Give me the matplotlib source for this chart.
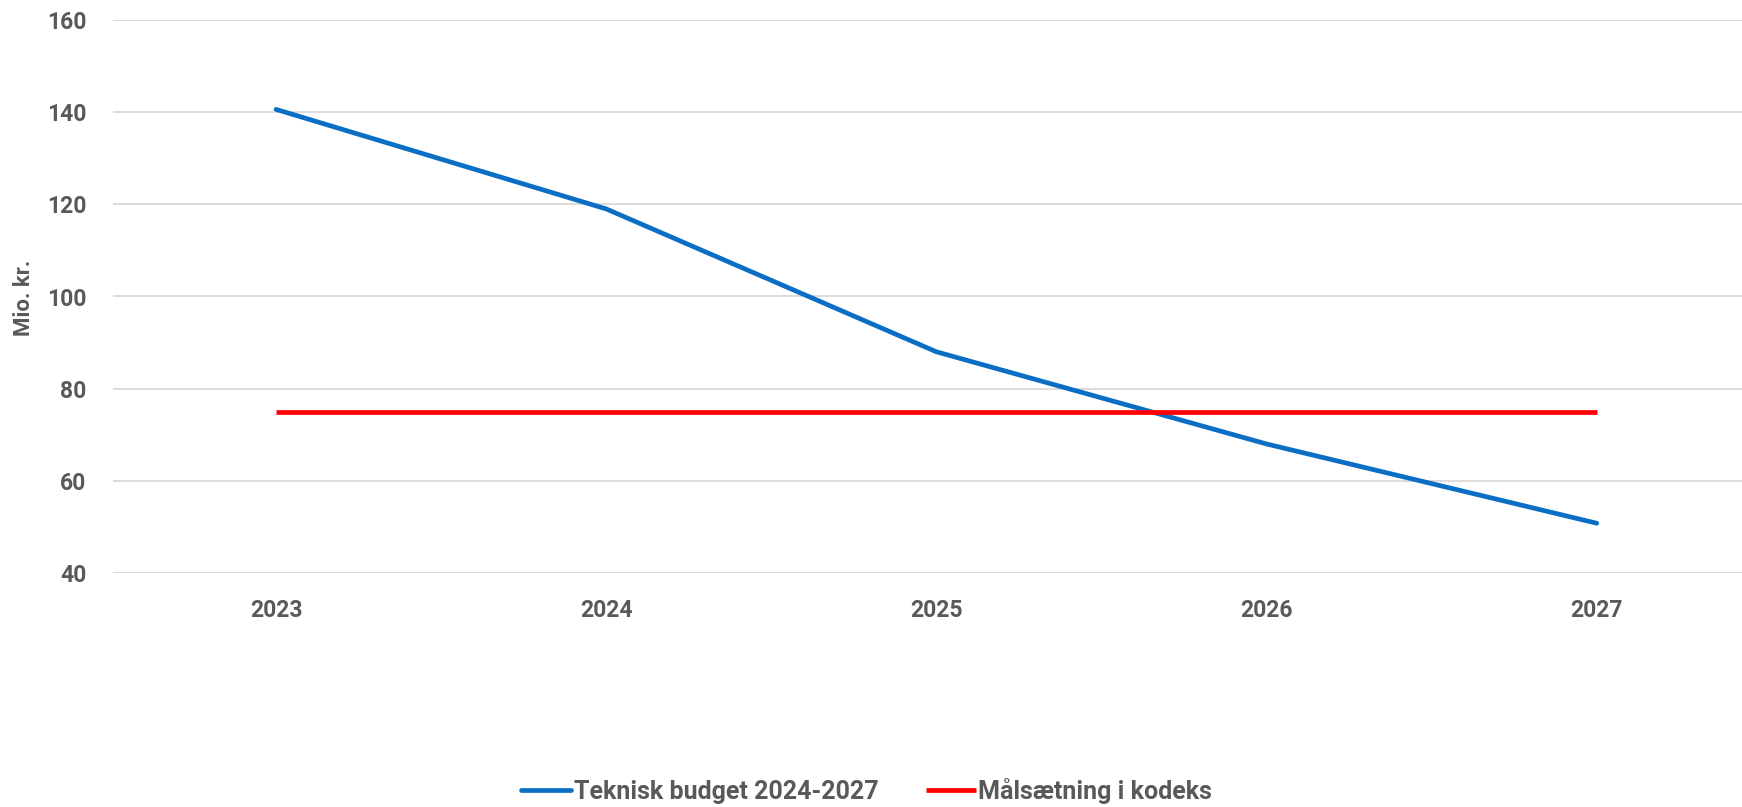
import matplotlib
matplotlib.use("Agg")
import matplotlib.pyplot as plt

years = ["2023", "2024", "2025", "2026", "2027"]
budget = [140.6, 119.0, 88.0, 68.0, 50.8]
target = [75, 75, 75, 75, 75]
series_names = ["Teknisk budget 2024-2027", "Målsætning i kodeks"]
y_ticks = [40, 60, 80, 100, 120, 140, 160]
y_label = "Mio. kr."

W, H = 1742, 807
fig = plt.figure(figsize=(W / 100, H / 100), dpi=100)
left, right, top, bottom = 113, 1742, 20, 573
ax = fig.add_axes([left / W, 1 - bottom / H, (right - left) / W, (bottom - top) / H])

gray = "#595959"
xs = list(range(len(years)))
ax.plot(xs, budget, color="#0a6fc4", lw=3.4, solid_capstyle="round", label=series_names[0], zorder=3)
ax.plot(xs, target, color="#ff0000", lw=3.4, solid_capstyle="butt", label=series_names[1], zorder=3)

ax.set_xlim(-0.494, 4.44)
ax.set_ylim(40, 160)
ax.set_yticks(y_ticks)
ax.set_xticks(xs)
ax.set_xticklabels(years)
ax.grid(axis="y", color="#d9d9d9", lw=1.3)
ax.set_axisbelow(True)
for s in ax.spines.values():
    s.set_visible(False)
ax.tick_params(axis="both", length=0, labelsize=16.5, labelcolor=gray)
ax.tick_params(axis="y", pad=19)
ax.tick_params(axis="x", pad=19)
for lab in ax.get_xticklabels() + ax.get_yticklabels():
    lab.set_fontfamily("Roboto")
    lab.set_fontweight("bold")

fig.text(24 / W, 1 - 298 / H, y_label, rotation=90, ha="center", va="center",
         fontsize=16, fontweight="bold", color=gray, fontfamily="Roboto")

leg = fig.legend(loc="center", bbox_to_anchor=(866.5 / W, 1 - 791 / H), ncol=2, frameon=False,
                 prop={"family": "Roboto", "size": 18, "weight": "bold"},
                 handlelength=2.0, handletextpad=0.1, columnspacing=1.9)
for t in leg.get_texts():
    t.set_color(gray)

fig.savefig("out.png", dpi=100)
